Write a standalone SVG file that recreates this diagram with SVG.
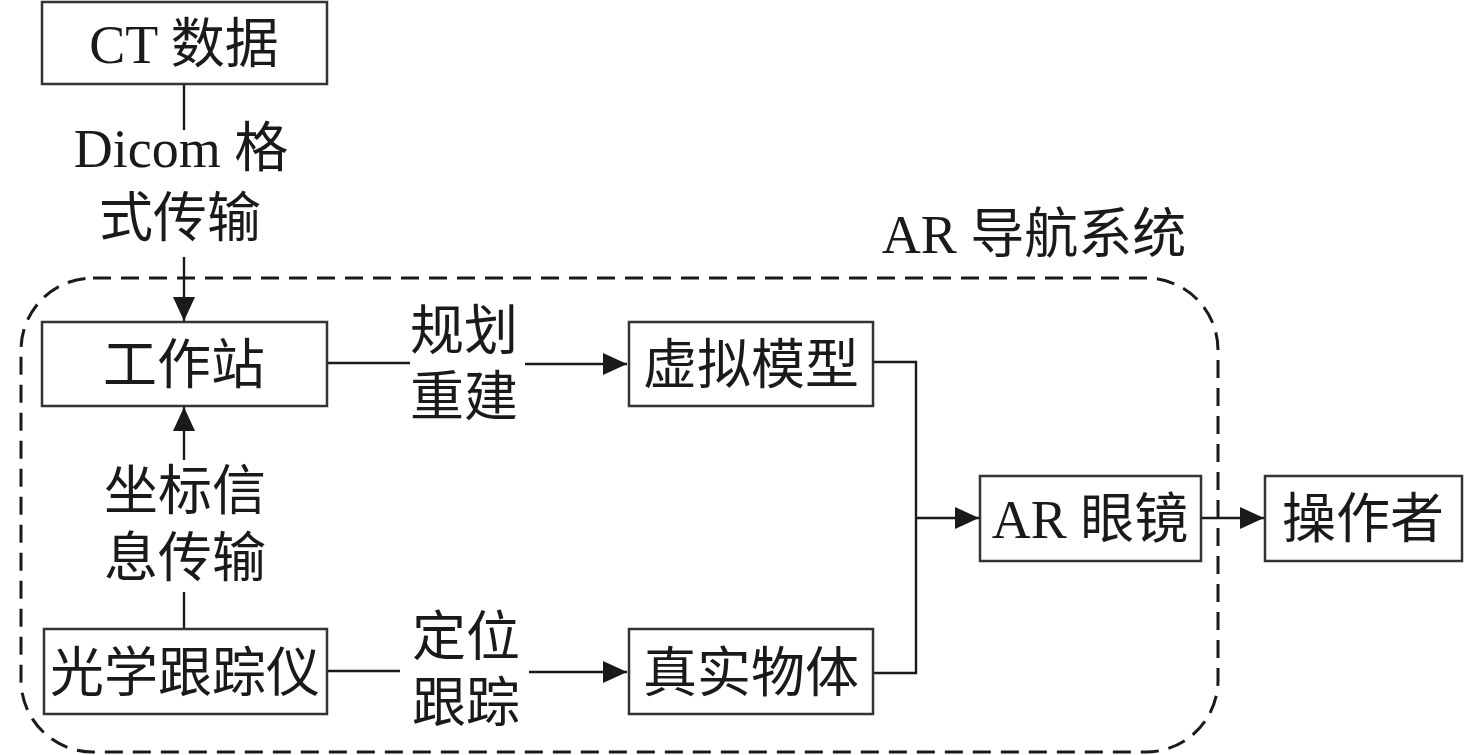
<svg xmlns="http://www.w3.org/2000/svg" width="1476" height="755" viewBox="0 0 1476 755">
<style>
.box{fill:#fff;stroke:#333;stroke-width:2.5}
.t{font-family:"Liberation Serif","Noto Sans CJK SC",serif;font-size:54px;fill:#1a1a1a;text-anchor:middle}
.c{fill:none;stroke:#1a1a1a;stroke-width:2.4}
.dash{fill:none;stroke:#1a1a1a;stroke-width:3;stroke-dasharray:18 10}
</style>
<defs>
<marker id="ah" markerUnits="userSpaceOnUse" markerWidth="24" markerHeight="24" refX="24" refY="12" orient="auto">
<path d="M0,1 L24,12 L0,23 Z" fill="#1a1a1a"/>
</marker>
</defs>
<rect class="dash" x="21" y="278" width="1197" height="474" rx="72" ry="72"/>
<text class="t" x="1034" y="253">AR 导航系统</text>
<g id="connectors">
<line class="c" x1="184" y1="84" x2="184" y2="130"/>
<line class="c" x1="184" y1="257" x2="184" y2="321" marker-end="url(#ah)"/>
<line class="c" x1="184" y1="629" x2="184" y2="592"/>
<line class="c" x1="184" y1="460" x2="184" y2="407" marker-end="url(#ah)"/>
<line class="c" x1="327" y1="363" x2="410" y2="363"/>
<line class="c" x1="525" y1="364" x2="627" y2="364" marker-end="url(#ah)"/>
<line class="c" x1="327" y1="671" x2="400" y2="671"/>
<line class="c" x1="529" y1="672" x2="627" y2="672" marker-end="url(#ah)"/>
<polyline class="c" points="873,362 916,362 916,673 873,673"/>
<line class="c" x1="916" y1="518" x2="979" y2="518" marker-end="url(#ah)"/>
<line class="c" x1="1201" y1="518" x2="1264" y2="518" marker-end="url(#ah)"/>
<text class="t" x="181" y="167">Dicom 格</text>
<text class="t" x="180" y="237">式传输</text>
<text class="t" x="185" y="510">坐标信</text>
<text class="t" x="185" y="577">息传输</text>
<text class="t" x="464" y="350">规划</text>
<text class="t" x="464" y="416">重建</text>
<text class="t" x="466" y="656">定位</text>
<text class="t" x="466" y="722">跟踪</text>
</g>
<g id="ct"><rect class="box" x="42" y="2" width="285" height="82"/><text class="t" x="184" y="63">CT 数据</text></g>
<g id="workstation"><rect class="box" x="42" y="322" width="285" height="84"/><text class="t" x="184" y="384">工作站</text></g>
<g id="tracker"><rect class="box" x="44" y="629" width="283" height="85"/><text class="t" x="185" y="692">光学跟踪仪</text></g>
<g id="virtual"><rect class="box" x="629" y="322" width="244" height="84"/><text class="t" x="751" y="384">虚拟模型</text></g>
<g id="real"><rect class="box" x="629" y="629" width="244" height="85"/><text class="t" x="751" y="692">真实物体</text></g>
<g id="glasses"><rect class="box" x="980" y="476" width="221" height="85"/><text class="t" x="1090" y="538">AR 眼镜</text></g>
<g id="operator"><rect class="box" x="1265" y="476" width="197" height="85"/><text class="t" x="1363" y="538">操作者</text></g>
</svg>
